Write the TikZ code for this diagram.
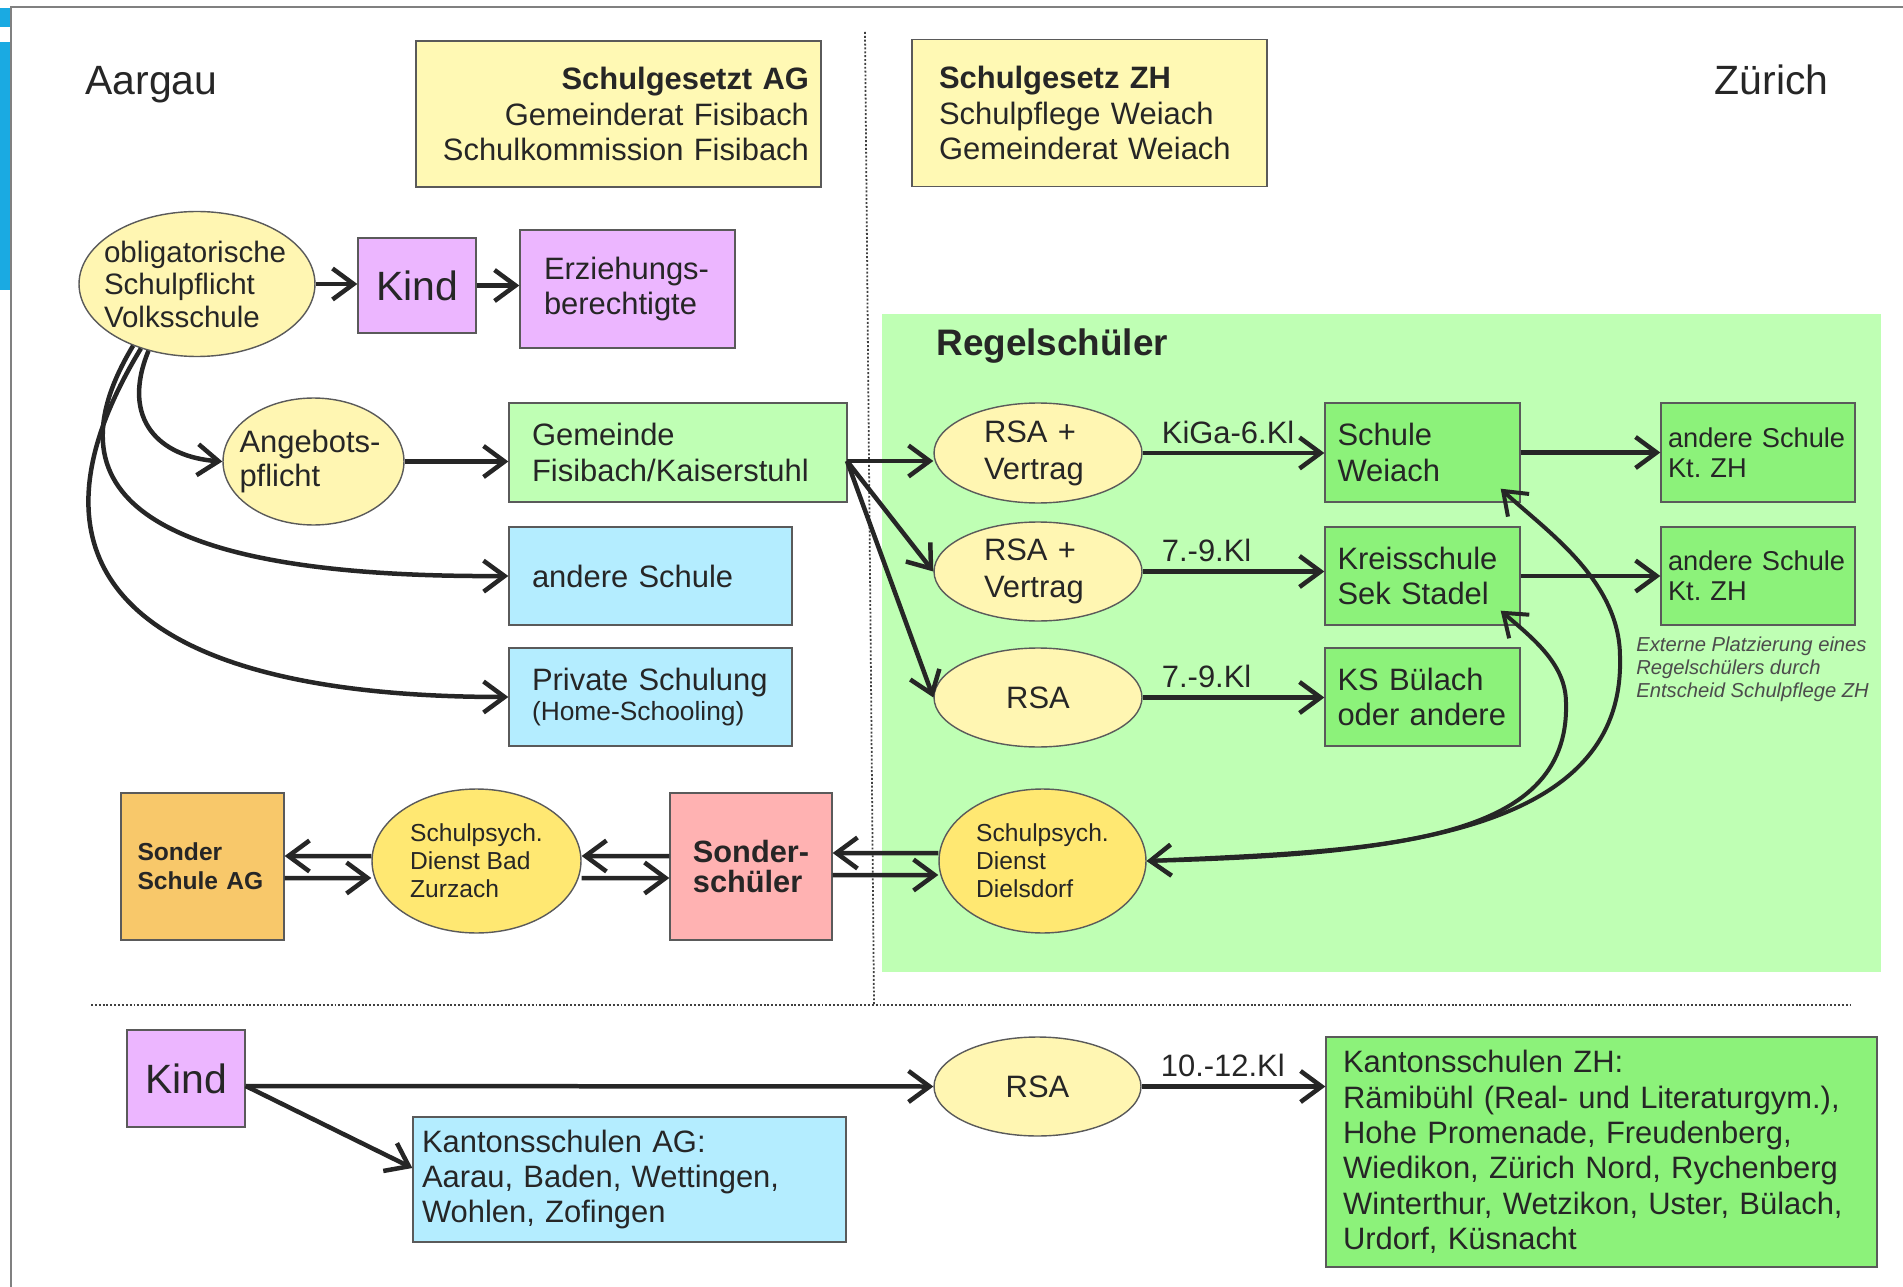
\documentclass[tikz,border=0pt]{standalone}
\usepackage{fontspec}
\setmainfont{Liberation Sans}
\usepackage{tikz}
\usetikzlibrary{positioning, arrows.meta, shapes.geometric}

\definecolor{lawyel}{RGB}{255,249,180}
\definecolor{ellyel}{RGB}{255,246,178}
\definecolor{psyyel}{RGB}{255,232,114}
\definecolor{vio}{RGB}{236,182,255}
\definecolor{lgreen}{RGB}{191,255,180}
\definecolor{dgreen}{RGB}{140,242,122}
\definecolor{lblue}{RGB}{180,237,255}
\definecolor{orng}{RGB}{248,200,106}
\definecolor{pinkbox}{RGB}{255,178,178}
\definecolor{rahmen}{RGB}{90,90,90}
\definecolor{ink}{RGB}{38,38,38}
\definecolor{slideblue}{RGB}{26,170,226}

\newcommand{\fs}[2]{\fontsize{#1}{#2}\selectfont}
\frenchspacing

\begin{document}
\begin{tikzpicture}[
    x=0.02cm, y=-0.02cm,
    box/.style={rectangle, draw=rahmen, line width=0.8pt, inner sep=0pt, align=left,
                text=ink, font=\fs{17.6}{20.2}},
    ell/.style={ellipse, draw=rahmen, line width=0.8pt, inner sep=-3cm, align=left,
                text=ink, font=\fs{17.6}{20.2}},
    arrow/.style={-{Straight Barb[length=0.42cm, width=0.62cm]}, line width=0.09cm, draw=ink},
    dual/.style={{Straight Barb[length=0.42cm, width=0.62cm]}-{Straight Barb[length=0.42cm, width=0.62cm]},
                 line width=0.08cm, draw=ink},
    klasse/.style={pos=0, anchor=base west, inner sep=0pt, xshift=0.34cm, yshift=0.2cm,
                   text=ink, font=\fs{17.6}{20.2}},
    kanton/.style={font=\fs{23.3}{26}, inner sep=0pt, text=ink},
    trenn/.style={dash pattern=on 1.1pt off 1.1pt, line width=1pt, draw=black!75}
]
\useasboundingbox (0,0) rectangle (1903,1287);

    % === Frame ===
    \fill[slideblue] (0,8) rectangle (11,27);
    \fill[slideblue] (0,42) rectangle (11,290);
    \draw[black!50, line width=0.8pt] (1903,7) -- (11,7) -- (11,1287);
    \fill[lgreen] (882,314) rectangle (1881,972);
    \draw[trenn] (865,32) -- (874,1005);
    \draw[trenn] (91,1005) -- (1851,1005);

    % === Headers ===
    \node[kanton, anchor=base west] (aargau) at (85,95) {Aargau};
    \node[kanton, anchor=base east] (zuerich) at (1829,95) {Zürich};
    \node[box, fill=lawyel, minimum width=8.1cm, minimum height=2.92cm, text width=7.62cm,
          align=right] (lawag) at (618.5,114) 
        {\textbf{Schulgesetzt AG}\\Gemeinderat Fisibach\\Schulkommission Fisibach};
    \node[box, fill=lawyel, minimum width=7.1cm, minimum height=2.94cm, text width=6.02cm]
        (lawzh) at (1089.5,113) {\textbf{Schulgesetz ZH}\\Schulpflege Weiach\\Gemeinderat Weiach};

    % === Aargau: Volksschule ===
    \node[ell, fill=ellyel, minimum width=4.72cm, minimum height=2.9cm, text width=3.72cm,
          font=\fs{16.8}{18.5}] (oblig) at (197,284) {obligatorische\\Schulpflicht\\Volksschule};
    \node[box, fill=vio, minimum width=2.36cm, minimum height=1.9cm, align=center,
          font=\fs{23.3}{26}] (kind) at (417,285.5) {Kind};
    \node[box, fill=vio, minimum width=4.3cm, minimum height=2.36cm, text width=3.34cm,
          font=\fs{17.6}{20}] (erz) at (627.5,289) {Erziehungs-\\berechtigte};
    \draw[arrow] (oblig.east) -- (oblig.east -| kind.west);
    \draw[arrow] (kind.east) -- (kind.east -| erz.west);

    \node[ell, fill=ellyel, minimum width=3.62cm, minimum height=2.54cm, text width=2.96cm,
          font=\fs{17.6}{19.4}] (angebot) at (313.5,461.5) {Angebots-\\pflicht};
    \node[box, fill=lgreen, minimum width=6.76cm, minimum height=1.98cm, text width=5.84cm,
          font=\fs{17.6}{20.5}] (gemeinde) at (678,452.5) {Gemeinde\\Fisibach/Kaiserstuhl};
    \node[box, fill=lblue, minimum width=5.66cm, minimum height=1.96cm, text width=4.74cm]
        (andereag) at (650.5,576) {andere Schule};
    \node[box, fill=lblue, minimum width=5.66cm, minimum height=1.96cm, text width=4.74cm]
        (privat) at (650.5,697) {Private Schulung\\[-0.1cm]{\fs{15}{17}(Home-Schooling)}};
    \draw[arrow] (angebot.east) -- (angebot.east -| gemeinde.west);
    \draw[arrow] (oblig.234) .. controls (120,420) and (160,457) .. (angebot.west);
    \draw[arrow] (oblig.224) .. controls (40,500) and (160,578) .. (andereag.west);
    \draw[arrow] (oblig.229) .. controls (0,580) and (150,697) .. (privat.west);

    % === Zürich: Regelschüler ===
    \node[font=\bfseries\fs{21}{24}, anchor=base west, inner sep=0pt, text=ink]
        (regel) at (936,356) {Regelschüler};
    \coordinate (fan) at (847,461);
    \node[ell, fill=ellyel, minimum width=4.16cm, minimum height=2cm, text width=2.16cm,
          font=\fs{17.6}{21}] (rsa1) at (1038,453) {RSA +\\Vertrag};
    \node[ell, fill=ellyel, minimum width=4.16cm, minimum height=1.98cm, text width=2.16cm,
          font=\fs{17.6}{21}] (rsa2) at (1038,571.5) {RSA +\\Vertrag};
    \node[ell, fill=ellyel, minimum width=4.16cm, minimum height=1.98cm] (rsa3) at (1038,697.5) {RSA};
    \node[box, fill=dgreen, minimum width=3.9cm, minimum height=1.98cm, text width=3.4cm]
        (weiach) at (1422.5,452.5) {Schule\\Weiach};
    \node[box, fill=dgreen, minimum width=3.9cm, minimum height=1.96cm, text width=3.4cm]
        (kreis) at (1422.5,576) {Kreisschule\\Sek Stadel};
    \node[box, fill=dgreen, minimum width=3.9cm, minimum height=1.96cm, text width=3.4cm]
        (buelach) at (1422.5,697) {KS Bülach\\oder andere};
    \node[box, fill=dgreen, minimum width=3.88cm, minimum height=1.98cm, text width=3.6cm,
          font=\fs{15.5}{17}] (andzh1) at (1758,452.5) {andere Schule\\Kt. ZH};
    \node[box, fill=dgreen, minimum width=3.88cm, minimum height=1.96cm, text width=3.6cm,
          font=\fs{15.5}{17}] (andzh2) at (1758,576) {andere Schule\\Kt. ZH};
    \node[font=\itshape\fs{11.5}{12.9}, text=black!70, align=left, anchor=north west,
          inner sep=0pt] (extern) at (1636,637)
        {Externe Platzierung eines\\Regelschülers durch\\Entscheid Schulpflege ZH};

    \draw[arrow] (fan) -- (fan -| rsa1.west);
    \draw[arrow] (fan) -- (rsa2.west);
    \draw[arrow] (fan) -- (rsa3.west);
    \draw[arrow] (rsa1.east) -- (rsa1.east -| weiach.west) node[klasse] {KiGa-6.Kl};
    \draw[arrow] (rsa2.east) -- (rsa2.east -| kreis.west) node[klasse] {7.-9.Kl};
    \draw[arrow] (rsa3.east) -- (rsa3.east -| buelach.west) node[klasse] {7.-9.Kl};
    \draw[arrow] (weiach.east) -- (andzh1.west);
    \draw[arrow] (kreis.east) -- (andzh2.west);

    % === Sonderschüler ===
    \node[box, fill=orng, minimum width=3.26cm, minimum height=2.94cm, text width=2.6cm,
          font=\bfseries\fs{14}{16.5}] (sonderag) at (202.5,866.5) {Sonder\\Schule AG};
    \node[ell, fill=psyyel, minimum width=4.18cm, minimum height=2.88cm, font=\fs{14}{16}]
        (zurzach) at (476.5,861) {Schulpsych.\\Dienst Bad\\Zurzach};
    \node[box, fill=pinkbox, minimum width=3.24cm, minimum height=2.94cm,
          font=\bfseries\fs{17.5}{17.5}] (sonder) at (751,866.5) {Sonder-\\schüler};
    \node[ell, fill=psyyel, minimum width=4.14cm, minimum height=2.88cm, font=\fs{14}{16}]
        (dielsdorf) at (1042.5,861) {Schulpsych.\\Dienst\\Dielsdorf};

    \draw[arrow] ([yshift=0.1cm]zurzach.west) -- ([yshift=0.21cm]sonderag.east);
    \draw[arrow] ([yshift=-0.23cm]sonderag.east) -- ([yshift=-0.34cm]zurzach.west);
    \draw[arrow] ([yshift=0.21cm]sonder.west) -- ([yshift=0.1cm]zurzach.east);
    \draw[arrow] ([yshift=-0.34cm]zurzach.east) -- ([yshift=-0.23cm]sonder.west);
    \draw[arrow] ([yshift=0.16cm]dielsdorf.west) -- ([yshift=0.27cm]sonder.east);
    \draw[arrow] ([yshift=-0.17cm]sonder.east) -- ([yshift=-0.28cm]dielsdorf.west);
    \draw[dual] (dielsdorf.east) .. controls (1400,855) and (1625,830) .. (1620,657)
        .. controls (1620,580) and (1545,530) .. ([xshift=-0.4cm, yshift=0.28cm]weiach.south east);
    \draw[dual] (dielsdorf.east) .. controls (1380,850) and (1570,845) .. (1566,703)
        .. controls (1566,665) and (1535,640) .. ([xshift=-0.4cm, yshift=0.3cm]kreis.south east);

    % === Kantonsschulen ===
    \node[box, fill=vio, minimum width=2.36cm, minimum height=1.94cm, align=center,
          font=\fs{23.3}{26}] (kind2) at (186,1078.5) {Kind};
    \node[box, fill=lblue, minimum width=8.66cm, minimum height=2.5cm, text width=8.3cm]
        (kantag) at (629.5,1179.5) {Kantonsschulen AG:\\Aarau, Baden, Wettingen,\\Wohlen, Zofingen};
    \node[ell, fill=ellyel, minimum width=4.14cm, minimum height=1.98cm] (rsa4) at (1037.5,1086.5) {RSA};
    \node[box, fill=dgreen, minimum width=11.02cm, minimum height=4.6cm, text width=10.34cm]
        (kantzh) at (1601.5,1152)
        {Kantonsschulen ZH:\\Rämibühl (Real- und Literaturgym.),\\Hohe Promenade, Freudenberg,\\Wiedikon, Zürich Nord, Rychenberg\\Winterthur, Wetzikon, Uster, Bülach,\\Urdorf, Küsnacht};
    \draw[arrow] ([yshift=-0.15cm]kind2.east) -- (rsa4.west);
    \draw[arrow] ([yshift=-0.15cm]kind2.east) -- ([yshift=0.23cm]kantag.west);
    \draw[arrow] (rsa4.east) -- (rsa4.east -| kantzh.west) node[klasse] {10.-12.Kl};

\end{tikzpicture}
\end{document}
